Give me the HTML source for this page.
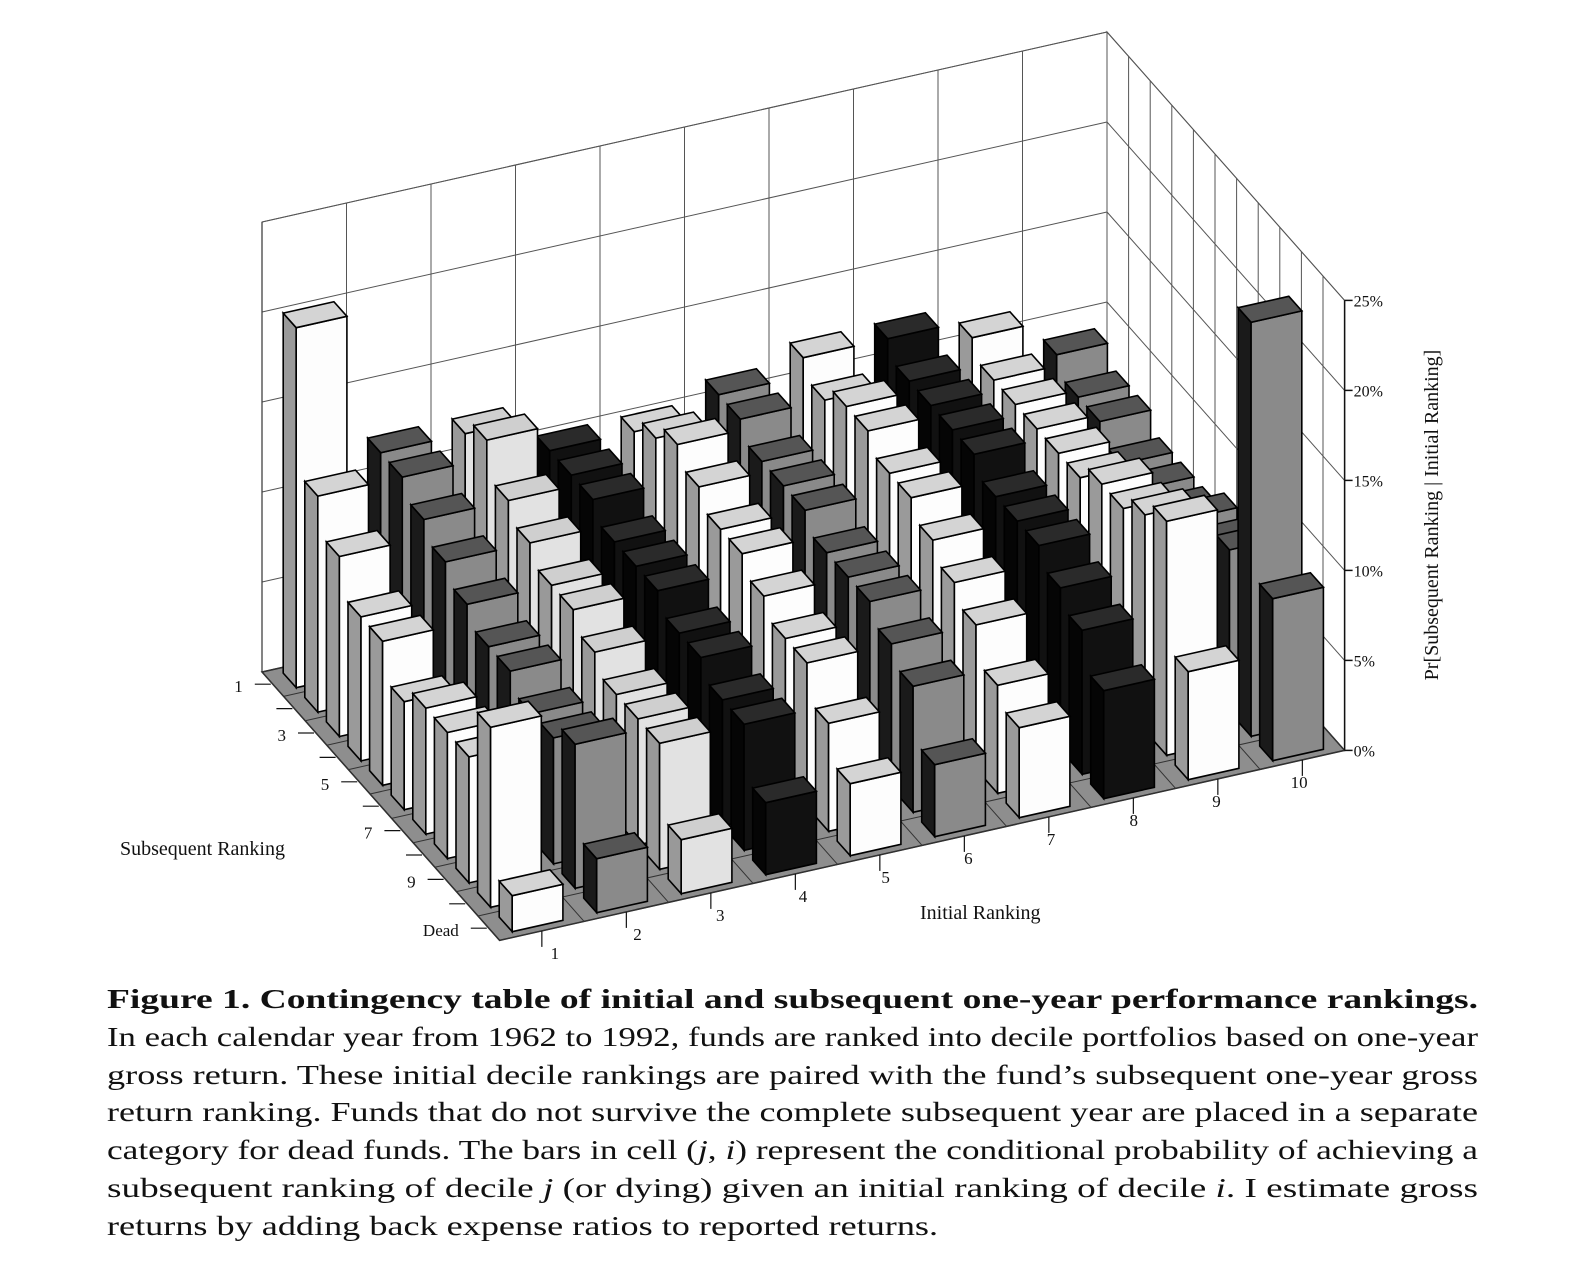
<!DOCTYPE html>
<html><head><meta charset="utf-8"><style>
body{margin:0;background:#fff;width:1570px;height:1274px;overflow:hidden;font-family:"Liberation Serif",serif;}
#cap{position:absolute;left:107px;top:981px;width:1372px;font-size:27px;color:#111;}
#cap .ln{display:block;height:37.8px;line-height:37.8px;white-space:nowrap;}
#cap .ln span{display:inline-block;transform-origin:0 0;}
</style></head><body>
<svg id="chart" width="1570" height="970" style="position:absolute;left:0;top:0" font-family="Liberation Serif, serif"></svg>
<div id="cap">
<div class="ln"><span><b>Figure 1. Contingency table of initial and subsequent one-year performance rankings.</b></span></div>
<div class="ln"><span>In each calendar year from 1962 to 1992, funds are ranked into decile portfolios based on one-year</span></div>
<div class="ln"><span>gross return. These initial decile rankings are paired with the fund’s subsequent one-year gross</span></div>
<div class="ln"><span>return ranking. Funds that do not survive the complete subsequent year are placed in a separate</span></div>
<div class="ln"><span>category for dead funds. The bars in cell (<i>j</i>, <i>i</i>) represent the conditional probability of achieving a</span></div>
<div class="ln"><span>subsequent ranking of decile <i>j</i> (or dying) given an initial ranking of decile <i>i</i>. I estimate gross</span></div>
<div class="ln last"><span>returns by adding back expense ratios to reported returns.</span></div>
</div>
<script>
const initialLabels=["1","2","3","4","5","6","7","8","9","10"];
const subsequentLabels=["1","2","3","4","5","6","7","8","9","10","Dead"];
const subsequentTickLabels=["1","3","5","7","9","Dead"];
const zTicks=[0,5,10,15,20,25];
// percentages for subsequent rankings 1..10, Dead given initial decile
const col1=[20,12,10,8,8,6,7,7,7,10,2];
const col2=[12,12,11,10,9,8,8,7,7,8,3];
const col3=[12,13,11,10,9,9,8,7,7,7,3];
const col4=[10,10,10,9,9,9,8,8,7,7,4];
const col5=[10,11,12,11,10,10,9,8,8,6,4];
const col6=[11,11,10,10,10,9,9,9,8,7,4];
const col7=[12,11,12,12,11,11,10,9,8,6,5];
const col8=[12,11,11,11,11,10,10,10,9,8,6];
const col9=[11,10,10,10,10,10,11,11,12,13,6];
const col10=[9,8,8,7,7,7,8,8,9,23,9];
const values=[col1,col2,col3,col4,col5,col6,col7,col8,col9,col10];

const svg=document.getElementById('chart');
const NS='http://www.w3.org/2000/svg';
const O=[262,672],U=[84.5,-19],V=[21.6,24.4],ZS=18;
function P(u,v,z){return [O[0]+u*U[0]+v*V[0], O[1]+u*U[1]+v*V[1]-z*ZS];}
function pts(a){return a.map(p=>p[0].toFixed(1)+','+p[1].toFixed(1)).join(' ');}
function el(t,a,parent){const e=document.createElementNS(NS,t);for(const k in a)e.setAttribute(k,a[k]);(parent||svg).appendChild(e);return e;}
function line(a,b,w,col){return el('line',{x1:a[0],y1:a[1],x2:b[0],y2:b[1],stroke:col||'#333','stroke-width':w||1});}
const NC=initialLabels.length,NR=subsequentLabels.length,ZMAX=25;

let g=el('g',{});


el('polygon',{points:pts([P(0,0,0),P(NC,0,0),P(NC,0,ZMAX),P(0,0,ZMAX)]),fill:'#fff',stroke:'#555','stroke-width':1},g);
for(let c=0;c<=NC;c++){line(P(c,0,0),P(c,0,ZMAX),1,'#555');}
for(const z of zTicks){line(P(0,0,z),P(NC,0,z),1,'#555');}
el('polygon',{points:pts([P(NC,0,0),P(NC,NR,0),P(NC,NR,ZMAX),P(NC,0,ZMAX)]),fill:'#fff',stroke:'#555','stroke-width':1});
for(let r=0;r<=NR;r++){line(P(NC,r,0),P(NC,r,ZMAX),1,'#555');}
for(const z of zTicks){line(P(NC,0,z),P(NC,NR,z),1,'#555');}
const fl=el('polygon',{points:pts([P(0,0,0),P(NC,0,0),P(NC,NR,0),P(0,NR,0)]),fill:'#8e8e8e',stroke:'#222','stroke-width':1.5});


for(let c=0;c<=NC;c++)line(P(c,0,0),P(c,NR,0),1,'#333');
for(let r=0;r<=NR;r++)line(P(0,r,0),P(NC,r,0),1,'#333');
line(P(0,0,0),P(0,0,ZMAX),1.2,'#333');

for(const z of zTicks){
  const p=P(NC,NR,z);
  line(p,[p[0]+8,p[1]],1.5,'#111');
  const t=el('text',{x:p[0]+9,y:p[1]+6,'font-size':16,fill:'#111'});
  t.textContent=z+'%';
  
  
}
line(P(NC,NR,0),P(NC,NR,ZMAX),1.5,'#111');
subsequentLabels.forEach((lab,r)=>{
  const p=P(0,r+0.5,0);
  line([p[0]-18,p[1]],[p[0]-2,p[1]],1.2,'#111');
  if(subsequentTickLabels.includes(lab)){
    const t=el('text',{x:p[0]-30,y:p[1]+8,'font-size':17,'text-anchor':'end',fill:'#111'});
    t.textContent=lab;
    
    
  }
});
initialLabels.forEach((lab,c)=>{
  const p=P(c+0.5,NR,0);
  line(p,[p[0],p[1]+16],1.2,'#111');
  const t=el('text',{x:p[0]+13-1.8*c,y:p[1]+28,'font-size':17,'text-anchor':'middle',fill:'#111'});
  t.textContent=lab;
  
  
});

const shades={w:['#fdfdfd','#9a9a9a','#d4d4d4'],g:['#8a8a8a','#1a1a1a','#555'],k:['#111','#050505','#2a2a2a'],l:['#e2e2e2','#999','#cfcfcf']};
const colShade=['w','g','l','k','w','g','w','k','w','g'];
const cells=[];
for(let r=0;r<NR;r++)for(let c=NC-1;c>=0;c--)cells.push([c,r]);
const bw=0.3,bd=0.3;
for(const [c,r] of cells){
  const h=values[c][r];const s=shades[colShade[c]];
  const u0=c+0.5-bw,u1=c+0.5+bw,v0=r+0.5-bd,v1=r+0.5+bd;
  const b=el('g',{});
  
  
  el('polygon',{points:pts([P(u0,v0,0),P(u0,v1,0),P(u0,v1,h),P(u0,v0,h)]),fill:s[1],stroke:'#000','stroke-width':1.6},b);
  el('polygon',{points:pts([P(u0,v1,0),P(u1,v1,0),P(u1,v1,h),P(u0,v1,h)]),fill:s[0],stroke:'#000','stroke-width':1.6},b);
  el('polygon',{points:pts([P(u0,v0,h),P(u1,v0,h),P(u1,v1,h),P(u0,v1,h)]),fill:s[2],stroke:'#000','stroke-width':1.6},b);
}
let t=el('text',{x:120,y:855,'font-size':20,fill:'#111'});t.textContent='Subsequent Ranking';


t=el('text',{x:920,y:919,'font-size':20,fill:'#111'});t.textContent='Initial Ranking';


t=el('text',{x:0,y:0,'font-size':20,fill:'#111','text-anchor':'middle',transform:'translate(1438,515) rotate(-90)'});t.textContent='Pr[Subsequent Ranking | Initial Ranking]';



const lines=[...document.querySelectorAll('#cap .ln span')];
let scales=[];
lines.forEach((sp,i)=>{const w=sp.getBoundingClientRect().width;const s=1371/w;if(i<lines.length-1){scales.push(s);sp.style.transform='scaleX('+s+')';}});
const avg=scales.reduce((a,b)=>a+b,0)/scales.length;
lines[lines.length-1].style.transform='scaleX('+avg+')';
</script>
</body></html>
